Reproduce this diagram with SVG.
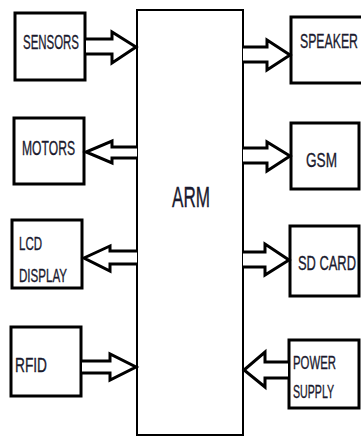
<svg xmlns="http://www.w3.org/2000/svg" width="361" height="437" viewBox="0 0 361 437">
<style>
.box{fill:#fff;stroke:#000;stroke-width:3}
.arm{fill:#fff;stroke:#000;stroke-width:2}
.arr{fill:#fff;stroke:#000;stroke-width:3;stroke-linejoin:miter}
text{font-family:"Liberation Sans",Arial,sans-serif;fill:#1a1a2e;stroke:#1a1a2e;stroke-width:0.35}
.l{font-size:21px}
.s{font-size:18px}
</style>
<rect width="361" height="437" fill="#fff"/>
<g id="arm"><rect class="arm" x="137" y="10" width="106" height="425"/><text x="172" y="207" font-size="29" textLength="38" lengthAdjust="spacingAndGlyphs">ARM</text></g>
<g id="sensors"><rect class="box" x="15" y="13" width="70" height="67"/><text class="l" x="23" y="49" textLength="56" lengthAdjust="spacingAndGlyphs">SENSORS</text></g>
<g id="motors"><rect class="box" x="14" y="118" width="70" height="66"/><text class="l" x="22" y="155" textLength="53" lengthAdjust="spacingAndGlyphs">MOTORS</text></g>
<g id="lcd"><rect class="box" x="12" y="220" width="70" height="68"/><text class="s" x="19" y="250" textLength="23" lengthAdjust="spacingAndGlyphs">LCD</text><text class="s" x="19" y="282" textLength="48" lengthAdjust="spacingAndGlyphs">DISPLAY</text></g>
<g id="rfid"><rect class="box" x="11" y="327" width="70" height="69"/><text class="l" x="15" y="372" textLength="32" lengthAdjust="spacingAndGlyphs">RFID</text></g>
<g id="speaker"><rect class="box" x="291" y="17" width="80" height="66"/><text class="l" transform="translate(300,48) scale(0.585,1)">SPEAKER</text></g>
<g id="gsm"><rect class="box" x="291" y="123" width="68" height="66"/><text class="l" x="306" y="167" textLength="31" lengthAdjust="spacingAndGlyphs">GSM</text></g>
<g id="sdcard"><rect class="box" x="290" y="226" width="69" height="70"/><text class="l" transform="translate(298,270) scale(0.614,1)">SD CARD</text></g>
<g id="power"><rect class="box" x="289" y="340" width="70" height="68"/><text class="s" x="293" y="369" textLength="43" lengthAdjust="spacingAndGlyphs">POWER</text><text class="s" transform="translate(293,398) scale(0.59,1)">SUPPLY</text></g>
<g id="connectors">
<path class="arr" d="M86,39 H112 V32 L136,47 L112,63 V54 H86"/>
<path class="arr" d="M137,147 H112 V141 L86,152 L112,163 V158 H137"/>
<path class="arr" d="M137,251 H110 V246 L84,258 L110,271 V264 H137"/>
<path class="arr" d="M82,361 H110 V354 L136,367 L110,380 V373 H82"/>
<path class="arr" d="M243,47 H267 V40 L290,55 L267,70 V62 H243"/>
<path class="arr" d="M243,148 H267 V142 L290,156 L267,171 V163 H243"/>
<path class="arr" d="M243,252 H265 V244 L289,260 L265,275 V267 H243"/>
<path class="arr" d="M288,362 H265 V352 L244,370 L265,387 V378 H288"/>
</g>
</svg>
